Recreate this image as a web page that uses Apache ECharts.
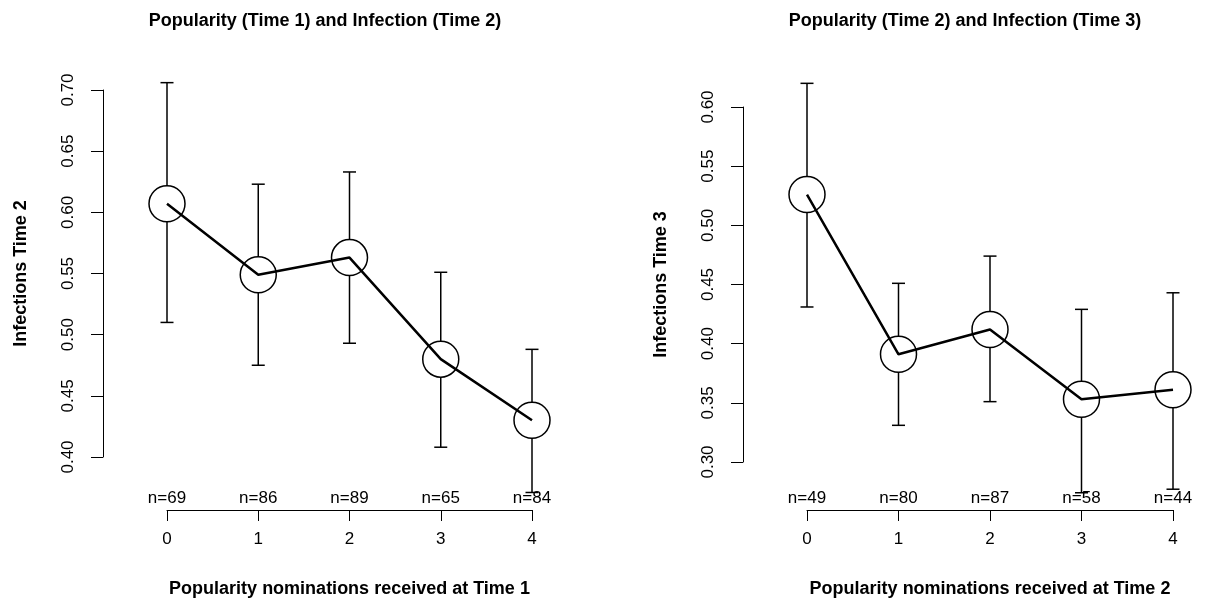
<!DOCTYPE html>
<html>
<head>
<meta charset="utf-8">
<script src="https://cdn.jsdelivr.net/npm/echarts@6/dist/echarts.min.js"></script>
<style>
html,body{margin:0;padding:0;background:#fff;}
#c{width:1228px;height:604px;}
</style>
</head>
<body>
<div id="c"></div>
<script>
// ---- data ----
const popularity = [0, 1, 2, 3, 4];
const leftTitle = 'Popularity (Time 1) and Infection (Time 2)';
const rightTitle = 'Popularity (Time 2) and Infection (Time 3)';
const leftXName = 'Popularity nominations received at Time 1';
const rightXName = 'Popularity nominations received at Time 2';
const leftYName = 'Infections Time 2';
const rightYName = 'Infections Time 3';

const leftMean  = [0.607, 0.549, 0.563, 0.480, 0.430];
const leftUpper = [0.706, 0.623, 0.633, 0.551, 0.488];
const leftLower = [0.510, 0.475, 0.493, 0.408, 0.371];
const leftN     = [69, 86, 89, 65, 84];

const rightMean  = [0.526, 0.391, 0.412, 0.353, 0.361];
const rightUpper = [0.620, 0.451, 0.474, 0.429, 0.443];
const rightLower = [0.431, 0.331, 0.351, 0.274, 0.277];
const rightN     = [49, 80, 87, 58, 44];

const leftYTicks = {min: 0.40, max: 0.70, step: 0.05};
const rightYTicks = {min: 0.30, max: 0.60, step: 0.05};

// ---- layout ----
const FONT = '"Liberation Sans", Arial, Helvetica, sans-serif';
const TICK_FS = 17;
const TITLE_FS = 18;
const panels = [
  {grid: {left: 167, top: 90, width: 365, height: 367}, yOffset: 64, xOffset: 53,
   yt: leftYTicks, mean: leftMean, up: leftUpper, lo: leftLower, n: leftN,
   xName: leftXName, yName: leftYName},
  {grid: {left: 807, top: 107, width: 366, height: 355}, yOffset: 64, xOffset: 48,
   yt: rightYTicks, mean: rightMean, up: rightUpper, lo: rightLower, n: rightN,
   xName: rightXName, yName: rightYName}
];

const grids = [], xAxes = [], yAxes = [], series = [];
panels.forEach((p, i) => {
  grids.push(Object.assign({containLabel: false}, p.grid));
  xAxes.push({
    type: 'value', gridIndex: i, min: 0, max: 4, interval: 1,
    offset: p.xOffset,
    name: p.xName, nameLocation: 'middle', nameGap: 70,
    nameTextStyle: {fontFamily: FONT, fontSize: 18, fontWeight: 'bold', color: '#000'},
    axisLine: {show: true, onZero: false, lineStyle: {color: '#000', width: 1}},
    axisTick: {show: true, length: 11, lineStyle: {color: '#000', width: 1}},
    axisLabel: {margin: 21, fontFamily: FONT, fontSize: TICK_FS, color: '#000',
      formatter: v => String(popularity[v] !== undefined ? popularity[v] : v)},
    splitLine: {show: false}
  });
  yAxes.push({
    type: 'value', gridIndex: i, min: p.yt.min, max: p.yt.max, interval: p.yt.step,
    offset: p.yOffset,
    name: p.yName, nameLocation: 'middle', nameGap: 73,
    nameTextStyle: {fontFamily: FONT, fontSize: 18, fontWeight: 'bold', color: '#000'},
    axisLine: {show: true, onZero: false, lineStyle: {color: '#000', width: 1}},
    axisTick: {show: true, length: 12, lineStyle: {color: '#000', width: 1}},
    axisLabel: {rotate: 90, margin: 26, fontFamily: FONT, fontSize: TICK_FS, color: '#000',
      formatter: v => v.toFixed(2)},
    splitLine: {show: false}
  });
  const ebData = popularity.map((x, k) => [x, p.lo[k], p.up[k]]);
  series.push({
    type: 'custom', xAxisIndex: i, yAxisIndex: i, clip: false, z: 1,
    data: ebData,
    renderItem: (params, api) => {
      const x = api.value(0);
      const a = api.coord([x, api.value(1)]);
      const b = api.coord([x, api.value(2)]);
      const hw = 6.5;
      const st = {stroke: '#000', lineWidth: 1.5};
      return {type: 'group', children: [
        {type: 'line', shape: {x1: a[0], y1: a[1], x2: b[0], y2: b[1]}, style: st},
        {type: 'line', shape: {x1: a[0]-hw, y1: a[1], x2: a[0]+hw, y2: a[1]}, style: st},
        {type: 'line', shape: {x1: b[0]-hw, y1: b[1], x2: b[0]+hw, y2: b[1]}, style: st}
      ]};
    }
  });
  series.push({
    type: 'scatter', xAxisIndex: i, yAxisIndex: i, clip: false, z: 2,
    symbol: 'circle', symbolSize: 36,
    itemStyle: {color: '#fff', borderColor: '#000', borderWidth: 1.5, opacity: 1},
    data: popularity.map((x, k) => [x, p.mean[k]])
  });
  series.push({
    type: 'line', xAxisIndex: i, yAxisIndex: i, z: 3, showSymbol: false, symbol: 'none',
    lineStyle: {color: '#000', width: 2.5},
    data: popularity.map((x, k) => [x, p.mean[k]])
  });
  const yMin = p.yt.min, xOff = p.xOffset;
  series.push({
    type: 'custom', xAxisIndex: i, yAxisIndex: i, clip: false, z: 4,
    data: popularity.map((x, k) => [x, p.n[k]]),
    renderItem: (params, api) => {
      const c = api.coord([api.value(0), yMin]);
      return {type: 'text', style: {
        text: 'n=' + api.value(1), x: c[0], y: c[1] + xOff - 12,
        textAlign: 'center', textVerticalAlign: 'middle',
        font: TICK_FS + 'px ' + FONT, fill: '#000'
      }};
    }
  });
});

const chart = echarts.init(document.getElementById('c'), null, {renderer: 'canvas'});
chart.setOption({
  animation: false,
  backgroundColor: '#fff',
  title: [
    {text: leftTitle, left: 325, top: 12, textAlign: 'center', padding: 0,
     textStyle: {fontFamily: FONT, fontSize: TITLE_FS, fontWeight: 'bold', color: '#000'}},
    {text: rightTitle, left: 965, top: 12, textAlign: 'center', padding: 0,
     textStyle: {fontFamily: FONT, fontSize: TITLE_FS, fontWeight: 'bold', color: '#000'}}
  ],
  grid: grids, xAxis: xAxes, yAxis: yAxes, series: series
});
</script>
</body>
</html>
